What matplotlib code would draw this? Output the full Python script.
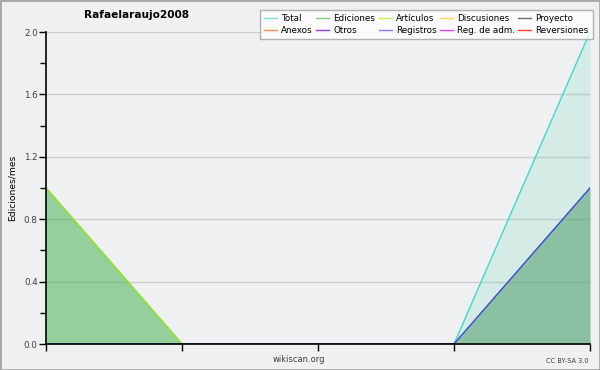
import matplotlib
matplotlib.use('Agg')
import matplotlib.pyplot as plt
import numpy as np

plt.rcParams['font.family'] = ['DejaVu Sans']

months = [0, 1, 2, 3, 4]
total = [1, 0, 0, 0, 2]
ediciones = [1, 0, 0, 0, 1]
articulos = [1, 0, 0, 0, 0]
registros = [0, 0, 0, 0, 1]

legend_names = ['Total', 'Ediciones', 'Artículos', 'Discusiones', 'Proyecto',
                'Anexos', 'Otros', 'Registros', 'Reg. de adm.', 'Reversiones']
legend_colors = ['#80e0e0', '#80d080', '#c0f060', '#ffd860', '#707070',
                 '#ff9050', '#9040e0', '#8080ff', '#e040ff', '#ff4040']

bg = '#eff0f2'
fig = plt.figure(figsize=(6, 3.7), dpi=100, facecolor=bg)
fig.patches.append(plt.Rectangle((0, 0), 1, 1, transform=fig.transFigure,
                                 fill=False, edgecolor='#a8a8a8', linewidth=2))
ax = fig.add_axes([46/600, 26/370, 544/600, 312/370])
ax.set_facecolor(bg)

ax.fill_between(months, 0, total, color='#40d0a8', alpha=0.15, linewidth=0)
ax.fill_between(months, 0, ediciones, color='#60b860', alpha=0.55, linewidth=0)
ax.fill_between(months, 0, registros, color='#4040e0', alpha=0.10, linewidth=0)
ax.plot(months, total, color='#40d8c8', linewidth=1)
ax.plot(months, ediciones, color='#60c060', linewidth=1)
ax.plot(months, articulos, color='#a8e820', linewidth=1)
ax.plot(months, registros, color='#4848e8', linewidth=1)

ax.set_xlim(0, 4)
ax.set_ylim(0, 2.0)
ax.set_xticks(months)
ax.set_xticklabels([])
ax.set_yticks(np.arange(0, 2.01, 0.4))
ax.set_yticks(np.arange(0, 2.01, 0.2), minor=True)
ax.yaxis.set_major_formatter(matplotlib.ticker.FormatStrFormatter('%.1f'))
ax.tick_params(axis='both', which='major', length=5, width=1, color='black',
               labelsize=6.3, labelcolor='#404040', pad=1)
ax.tick_params(axis='y', which='minor', length=4, width=1, color='black')
ax.grid(axis='y', which='major', color='#cdcdcd', linewidth=1)
ax.set_axisbelow(True)
for s in ['top', 'right']:
    ax.spines[s].set_visible(False)
for s in ['left', 'bottom']:
    ax.spines[s].set_linewidth(1.2)
ax.set_ylabel('Ediciones/mes', fontsize=6.6, labelpad=5)

fig.text(137/600, 1-15/370, 'Rafaelaraujo2008', fontsize=7.6, fontweight='bold',
         ha='center', va='center')
fig.text(299/600, 1-360/370, 'wikiscan.org', fontsize=6, color='#404040',
         ha='center', va='center')
fig.text(589/600, 1-361/370, 'CC BY-SA 3.0', fontsize=4.8, color='#404040',
         ha='right', va='center')

order = [0, 5, 1, 6, 2, 7, 3, 8, 4, 9]
handles = [plt.Line2D([], [], color=legend_colors[i], linewidth=1) for i in order]
labels = [legend_names[i] for i in order]
leg = fig.legend(handles, labels, loc='upper right', ncol=5,
                 bbox_to_anchor=(593/600, 1-10/370), fontsize=6.3,
                 frameon=True, fancybox=False, edgecolor='#a0a0a0',
                 handlelength=1.5, handletextpad=0.45, columnspacing=0.4,
                 labelspacing=0.3, borderpad=0.5, borderaxespad=0)
leg.get_frame().set_linewidth(1)

fig.savefig('out.png', dpi=100, facecolor=bg)
